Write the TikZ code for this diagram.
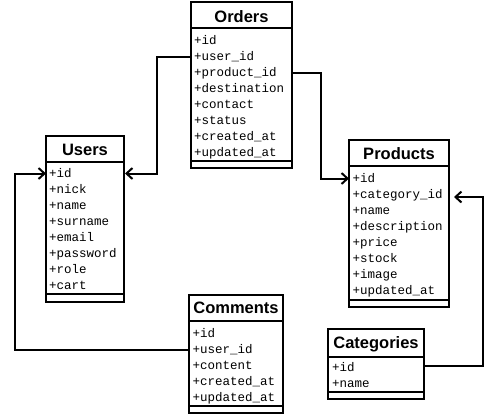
\documentclass[tikz,border=0pt]{standalone}
\usepackage{fontspec}
\usetikzlibrary{arrows.meta}
\newfontfamily\attrfont{Liberation Mono}
\newfontfamily\ttlfont{Liberation Sans}
\tikzset{
  tbox/.style={draw=black, line width=2pt, inner sep=0pt, outer sep=0pt, anchor=north west, fill=white},
  tsep/.style={draw=black, line width=2pt},
  ttl/.style={font=\ttlfont\bfseries\fontsize{16.5}{18}\selectfont, anchor=base, inner sep=0pt},
  attr/.style={font=\attrfont\fontsize{12.5}{14}\selectfont, anchor=west, inner sep=0pt, text height=9pt, text depth=2pt},
  conn/.style={draw=black, line width=2pt, -{Straight Barb[length=6pt,width=11pt]}},
}
\begin{document}
\begin{tikzpicture}[x=1pt, y=-1pt]
\useasboundingbox (0,0) rectangle (485,416);
% Orders
\node[tbox, minimum width=101pt, minimum height=166pt] (orders) at (191,2) {};
\draw[tsep] ([yshift=-26pt]orders.north west) -- ([yshift=-26pt]orders.north east);
\draw[tsep] ([yshift=7pt]orders.south west) -- ([yshift=7pt]orders.south east);
\node[ttl] (ordersT) at (241.5,22) {Orders};
\foreach \t [count=\i] in {+id,+user\_id,+product\_id,+destination,+contact,+status,+created\_at,+updated\_at}
  \node[attr] (o\i) at (194,{40.5+16*(\i-1)}) {\t};
% Users
\node[tbox, minimum width=78pt, minimum height=166pt] (users) at (46,136) {};
\draw[tsep] ([yshift=-26pt]users.north west) -- ([yshift=-26pt]users.north east);
\draw[tsep] ([yshift=8pt]users.south west) -- ([yshift=8pt]users.south east);
\node[ttl] (usersT) at (85,155) {Users};
\foreach \t [count=\i] in {+id,+nick,+name,+surname,+email,+password,+role,+cart}
  \node[attr] (u\i) at (49,{173.5+16*(\i-1)}) {\t};
% Products
\node[tbox, minimum width=100pt, minimum height=167pt] (products) at (349,140) {};
\draw[tsep] ([yshift=-26pt]products.north west) -- ([yshift=-26pt]products.north east);
\draw[tsep] ([yshift=7pt]products.south west) -- ([yshift=7pt]products.south east);
\node[ttl] (productsT) at (399,159) {Products};
\foreach \t [count=\i] in {+id,+category\_id,+name,+description,+price,+stock,+image,+updated\_at}
  \node[attr] (p\i) at (352.5,{178.5+16*(\i-1)}) {\t};
% Comments
\node[tbox, minimum width=94pt, minimum height=118pt] (comments) at (189,295) {};
\draw[tsep] ([yshift=-26pt]comments.north west) -- ([yshift=-26pt]comments.north east);
\draw[tsep] ([yshift=7pt]comments.south west) -- ([yshift=7pt]comments.south east);
\node[ttl] (commentsT) at (236,313) {Comments};
\foreach \t [count=\i] in {+id,+user\_id,+content,+created\_at,+updated\_at}
  \node[attr] (c\i) at (192.5,{333.5+16*(\i-1)}) {\t};
% Categories
\node[tbox, minimum width=96pt, minimum height=70pt] (categories) at (328,329) {};
\draw[tsep] ([yshift=-28pt]categories.north west) -- ([yshift=-28pt]categories.north east);
\draw[tsep] ([yshift=7pt]categories.south west) -- ([yshift=7pt]categories.south east);
\node[ttl] (categoriesT) at (376,348) {Categories};
\foreach \t [count=\i] in {+id,+name}
  \node[attr] (g\i) at (332,{367.5+16*(\i-1)}) {\t};
% Connectors
\draw[conn] (orders.west |- o2) -- ++(-34,0) |- ([xshift=1pt]users.east |- u1);
\draw[conn] (orders.east |- o3) -- ++(29,0) |- (products.west |- p1);
\draw[conn] (comments.west |- c2) -- ++(-174,0) |- (users.west |- u1);
\draw[conn] ([yshift=2pt]categories.east |- g1) -- ++(59,0) |- ([xshift=5pt,yshift=-2.5pt]products.east |- p2);
\end{tikzpicture}
\end{document}
